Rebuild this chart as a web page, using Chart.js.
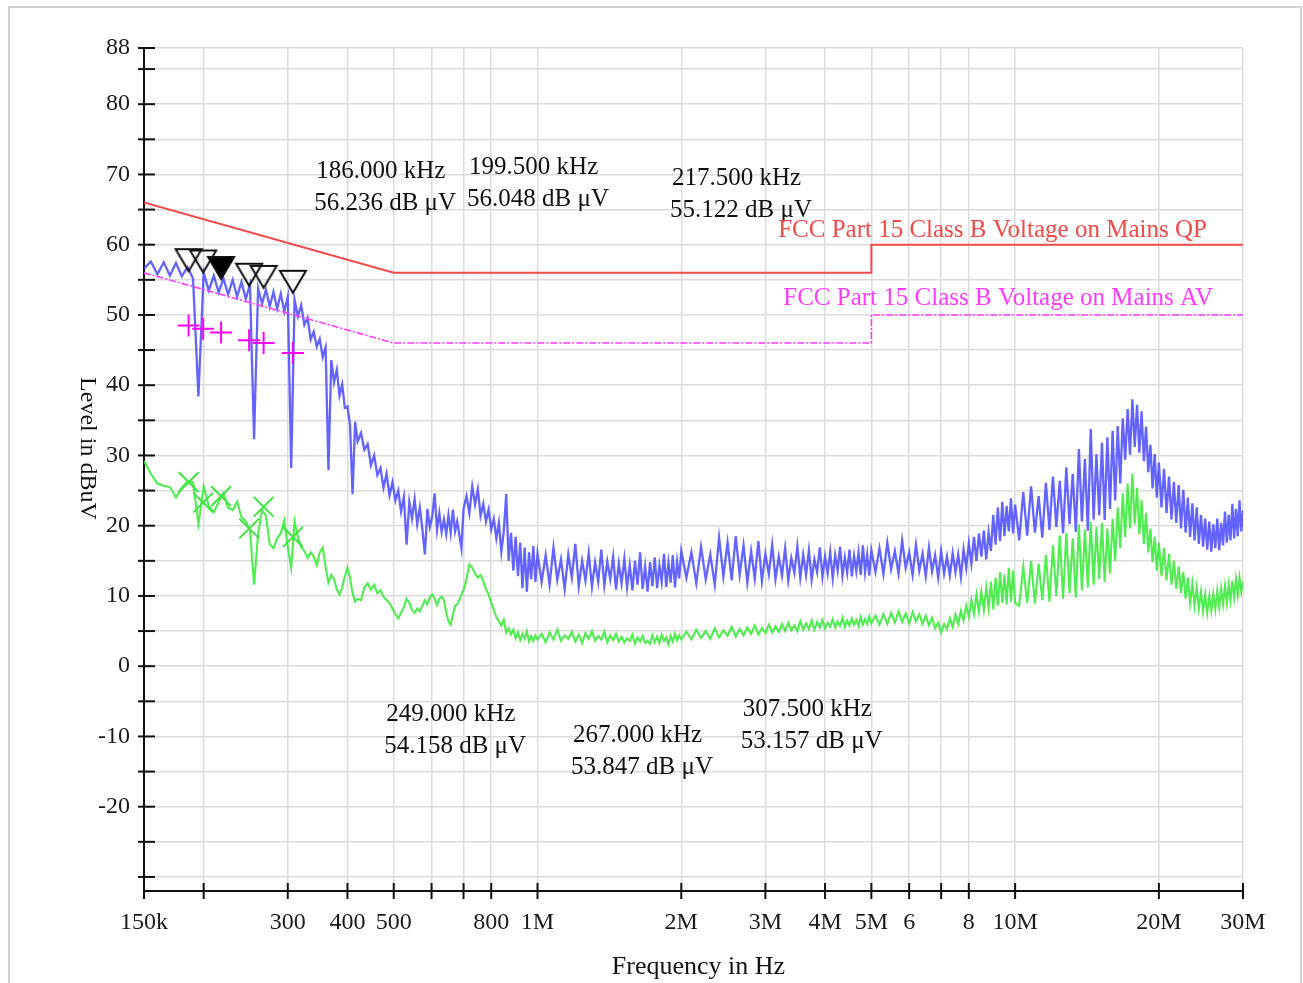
<!DOCTYPE html>
<html>
<head>
<meta charset="utf-8">
<script src="https://cdn.jsdelivr.net/npm/chart.js@4.4.1/dist/chart.umd.min.js"></script>
<style>
  html, body { margin: 0; padding: 0; background: #fff; overflow: hidden; }
  #marco { position: absolute; left: 8px; top: 6px; width: 1290px; height: 990px; border: 2px solid #d2d2d2; border-bottom: none; }
  #caja { position: absolute; left: 0; top: 0; width: 1303px; height: 983px; }
</style>
</head>
<body>
<div id="marco"></div>
<div id="caja"><canvas id="grafica"></canvas></div>
<script>
// frecuencias del barrido en kHz
let frecuencias = [
  150,155,160,165,170,175,180,185,190,195,
  200,205,210,215,220,225,230,235,240,245,
  250,255,260,265,270,275,280,285,290,295,
  300,305,310,315,320,325,330,335,340,345,
  350,355,360,365,370,375,380,385,390,395,
  400,405,410,415,420,
  427,434,441,448,455,462,469,476,483,490,
  497,504,511,518,525,532,539,546,553,560,
  567,574,581,588,595,602,609,616,623,630,
  637,644,651,658,665,672,679,686,693,700,
  710,720,730,740,750,760,770,780,790,800,
  810,820,830,840,850,860,870,880,890,900,
  910,920,930,940,950,960,970,980,990,1000,
  1020,1040,1060,1080,1100,1120,1140,1160,1180,1200,
  1220,1240,1260,1280,1300,1320,1340,1360,1380,1400,
  1420,1440,1460,1480,1500,1520,1540,1560,1580,1600,
  1620,1640,1660,1680,1700,1720,1740,1760,1780,1800,
  1820,1840,1860,1880,1900,1920,1940,1960,1980,2000,
  2050,2100,2150,2200,2250,2300,2350,2400,2450,2500,
  2550,2600,2650,2700,2750,2800,2850,2900,2950,3000,
  3050,3100,3150,3200,3250,3300,3350,3400,3450,3500,
  3550,3600,3650,3700,3750,3800,3850,3900,3950,4000,
  4050,4100,4150,4200,4250,4300,4350,4400,4450,4500,
  4550,4600,4650,4700,4750,4800,4850,4900,4950,5000,
  5100,5200,5300,5400,5500,5600,5700,5800,5900,6000,
  6100,6200,6300,6400,6500,6600,6700,6800,6900,7000,
  7100,7200,7300,7400,7500,7600,7700,7800,7900,8000,
  8100,8200,8300,8400,8500,8600,8700,8800,8900,9000,
  9100,9200,9300,9400,9500,9600,9700,9800,9900,10000,
  10200,10400,10600,10800,11000,11200,11400,11600,11800,12000,
  12200,12400,12600,12800,13000,13200,13400,13600,13800,14000,
  14200,14400,14600,14800,15000,15200,15400,15600,15800,16000,
  16200,16400,16600,16800,17000,17200,17400,17600,17800,18000,
  18200,18400,18600,18800,19000,19200,19400,19600,19800,20000,
  20250,20500,20750,21000,21250,21500,21750,22000,22250,22500,
  22750,23000,23250,23500,23750,24000,24250,24500,24750,25000,
  25250,25500,25750,26000,26250,26500,26750,27000,27250,27500,
  27750,28000,28250,28500,28750,29000,29250,29500,29750,30000
];

// traza azul (pico) en dBuV
let nivelPico = [
  56.6,57.6,55.8,57.5,55.6,57.4,55.5,56.8,55.2,38.4,
  56.0,53.5,55.6,53.2,55.2,52.9,55.0,52.6,54.7,52.3,
  54.3,32.3,53.8,51.6,53.6,51.2,53.3,50.9,53.0,50.5,
  52.6,28.2,52.2,49.8,51.4,48.6,49.6,46.5,47.6,45.5,
  46.6,44.0,45.4,27.9,43.6,40.4,42.2,38.5,40.1,36.8,
  37.0,34.4,24.5,34.8,32.0,
  33.2,30.8,31.6,28.6,30.0,27.2,28.2,25.4,27.4,24.3,
  26.2,23.6,25.0,22.0,24.1,17.3,23.4,21.0,23.8,20.2,
  22.6,19.5,15.9,22.4,19.8,21.3,24.6,19.4,21.8,19.1,
  20.9,18.8,21.5,19.0,22.3,19.2,20.6,18.7,16.8,22.4,
  24.2,21.8,25.6,23.0,25.2,21.4,23.1,20.6,22.3,19.5,
  21.0,18.2,20.4,16.3,19.2,24.5,15.0,19.0,13.6,18.4,
  12.8,17.6,11.1,16.9,10.6,16.2,12.4,17.1,12.0,16.0,
  12.0,15.8,11.6,16.9,12.3,15.2,11.0,15.9,12.6,17.4,
  11.4,15.0,12.2,16.1,11.3,14.8,12.0,16.6,11.5,14.9,
  12.4,15.6,10.9,14.6,11.8,15.3,11.2,14.4,10.8,15.0,
  11.6,16.2,11.0,14.2,10.6,14.8,11.4,15.5,11.1,14.3,
  12.0,16.0,11.3,14.7,11.9,15.8,11.2,14.9,12.5,16.4,
  12.6,16.2,11.8,17.0,12.4,15.9,11.6,18.3,12.8,17.6,
  12.2,18.5,13.0,17.2,11.9,16.4,12.5,17.8,12.1,16.0,
  13.1,17.3,12.4,15.6,12.9,16.8,12.2,15.4,13.3,17.1,
  12.6,15.9,13.0,16.5,12.3,15.2,13.4,16.9,12.7,15.6,
  13.2,16.3,12.5,15.8,13.6,17.0,12.9,15.5,13.3,16.6,
  12.8,15.7,13.5,16.2,13.0,17.2,13.4,15.9,12.9,16.5,
  13.4,16.8,13.1,17.6,13.8,16.4,13.2,17.9,14.0,16.2,
  13.0,17.3,13.6,16.0,12.8,16.9,13.5,15.8,12.6,16.4,
  13.2,15.6,12.9,16.1,13.4,15.9,12.7,16.6,14.0,17.5,
  14.6,18.4,15.0,18.9,15.6,19.3,15.2,19.0,16.4,21.5,
  17.3,22.6,17.8,23.4,18.5,22.8,19.2,23.9,18.9,23.0,
  17.9,24.8,18.6,25.6,19.0,24.2,18.3,26.1,19.4,27.0,
  19.8,26.4,18.9,28.3,20.2,27.4,19.1,30.9,20.6,29.5,
  19.3,33.8,20.9,30.2,21.5,31.8,20.8,32.6,22.4,33.5,
  23.6,34.2,26.0,35.3,29.4,36.6,30.1,38.0,31.2,37.2,
  30.4,36.3,29.2,34.1,27.6,31.5,25.3,30.2,24.0,29.0,
  22.6,28.1,21.8,27.0,20.9,26.2,20.4,25.8,19.6,25.1,
  19.0,24.0,18.4,23.2,17.9,22.6,17.4,21.5,17.0,21.0,
  16.6,20.6,16.3,20.2,16.8,21.0,16.5,20.4,17.2,22.0,
  17.6,21.6,17.9,23.1,18.2,22.4,18.5,23.6,19.2,22.2
];

// traza verde (promedio) en dBuV
let nivelPromedio = [
  29.2,27.4,26.0,25.7,25.5,24.0,25.4,26.3,26.2,20.2,
  25.6,22.8,21.9,23.4,24.6,22.6,22.2,23.4,21.2,20.6,
  19.4,11.6,18.8,22.2,21.4,17.4,16.8,18.2,18.9,20.8,
  17.0,14.0,20.6,18.4,17.0,16.4,15.4,16.2,15.6,14.4,
  16.2,16.9,14.2,11.9,13.0,12.4,10.9,10.2,11.2,12.8,
  14.0,12.6,10.4,9.2,9.6,
  9.4,11.2,11.8,10.9,11.6,10.4,10.8,9.9,9.4,9.0,
  8.2,7.4,6.8,7.6,8.4,9.6,9.0,8.0,7.6,8.2,
  7.8,8.6,9.4,8.8,9.8,10.2,9.6,8.7,9.6,9.9,
  9.4,7.6,6.4,5.9,7.4,8.6,8.8,9.4,10.2,10.8,
  12.4,14.5,14.0,13.2,12.6,13.0,12.1,11.0,10.2,9.0,
  8.0,7.0,6.4,5.8,6.6,4.8,5.4,4.5,5.2,4.0,
  4.8,3.7,4.6,3.9,5.0,3.5,4.3,3.6,4.4,3.8,
  4.6,3.4,4.8,3.8,5.2,3.6,4.4,3.9,4.9,3.5,
  4.5,3.3,4.7,3.9,5.0,3.6,4.3,3.8,4.9,3.4,
  4.4,3.7,4.6,3.5,4.2,3.4,4.0,3.6,4.5,3.2,
  4.1,3.5,4.3,3.3,3.6,3.2,4.4,3.4,4.2,3.3,
  4.5,3.6,4.1,3.1,4.3,3.5,4.6,3.7,4.4,3.8,
  4.9,3.8,5.2,4.0,5.0,3.9,5.4,4.1,5.1,4.3,
  5.6,4.2,5.3,4.4,5.5,4.6,5.8,4.5,5.4,4.7,
  5.9,4.8,5.7,4.9,6.0,5.0,6.2,5.1,5.8,5.0,
  6.4,5.2,6.1,5.3,6.5,5.2,6.3,5.5,6.6,5.4,
  6.2,5.6,6.7,5.5,6.4,5.7,6.9,5.6,6.5,5.8,
  6.8,5.9,6.6,5.7,7.0,5.9,6.7,6.0,7.1,6.1,
  7.2,5.9,7.4,6.0,7.6,6.2,7.8,6.3,7.5,6.1,
  7.7,6.4,7.4,6.0,7.2,5.8,6.9,5.4,6.2,4.8,
  6.0,5.3,6.8,5.6,7.4,6.0,7.9,6.5,8.6,7.0,
  9.4,7.4,10.2,7.8,10.6,8.0,11.2,8.3,12.0,8.1,
  12.6,8.6,13.4,9.0,13.0,8.8,14.0,9.2,13.6,9.0,
  8.6,14.2,9.0,15.0,8.9,14.6,9.4,15.8,9.2,17.2,
  10.0,18.6,9.6,19.0,10.4,18.2,9.8,20.2,10.8,19.4,
  11.2,20.6,11.6,19.8,12.4,20.4,12.0,19.6,13.2,21.0,
  15.0,22.6,16.8,24.6,18.4,26.0,19.6,27.4,20.2,25.4,
  18.8,23.6,17.4,21.8,16.2,19.6,14.8,18.4,13.6,17.6,
  12.8,16.8,12.2,16.0,11.6,15.0,11.0,14.2,10.4,13.4,
  9.6,12.6,9.0,11.8,8.6,11.2,8.2,10.6,7.8,10.2,
  7.6,10.0,7.9,10.3,8.1,10.8,8.4,11.0,8.8,11.4,
  9.0,11.6,9.4,12.2,9.8,12.4,10.2,12.6,10.6,12.0
];

// limites FCC
let limiteFrec = [150, 500, 5000, 5000, 30000];
let limiteQP = [66, 56, 56, 60, 60];
let limiteAV = [56, 46, 46, 50, 50];
let nombreQP = "FCC Part 15 Class B Voltage on Mains QP";
let nombreAV = "FCC Part 15 Class B Voltage on Mains AV";
let etiquetaLimiteFrec = [3190, 3270];
let etiquetaLimiteNivel = [62.1, 52.3];

// marcadores
let marcadorFrec = [186, 199.5, 217.5, 249, 267, 307.5];
let marcadorPico = [56.236, 56.048, 55.122, 54.158, 53.847, 53.157];
let marcadorRelleno = [false, false, true, false, false, false];
let marcadorAV = [48.5, 48.05, 47.5, 46.4, 46.0, 44.6];
let marcadorVerde = [26.2, 23.3, 24.2, 19.6, 22.7, 18.4];
let textoFrec = [344, 719, 1913, 482, 1187, 2690];
let textoNivel = [70.4, 71.0, 69.4, -6.8, -9.9, -6.2];

// ejes
let ticksX = [150,200,300,400,500,600,700,800,1000,2000,3000,4000,5000,6000,7000,8000,10000,20000,30000];
let etiquetasX = ["150k","","300","400","500","","","800","1M","2M","3M","4M","5M","6","","8","10M","20M","30M"];
let ticksY = [-30,-25,-20,-15,-10,-5,0,5,10,15,20,25,30,35,40,45,50,55,60,65,70,75,80,85,88];
let etiquetasY = ["","","-20","","-10","","0","","10","","20","","30","","40","","50","","60","","70","","80","","88"];

let colorQP = "#f04a4a";
let colorAV = "#ff3cff";
let fuente = '"Liberation Serif", "DejaVu Serif", serif';

function armarPuntos(xs, ys){
    let puntos = [];
    for (let i = 0; i < xs.length; i++){
        puntos.push({x: xs[i], y: ys[i]});
    }
    return puntos;
}

function triangulo(relleno){
    // la punta queda en el centro del lienzo
    const c = document.createElement("canvas");
    c.width = 30;
    c.height = 48;
    const g = c.getContext("2d");
    g.beginPath();
    g.moveTo(2, 2);
    g.lineTo(28, 2);
    g.lineTo(15, 24);
    g.closePath();
    if (relleno){
        g.fillStyle = "#000";
        g.fill();
    }
    g.lineWidth = 2;
    g.strokeStyle = "#111";
    g.stroke();
    return c;
}

let estilosMarcador = marcadorRelleno.map(r => triangulo(r));

const extras = {
    id: "extras",
    beforeDatasetsDraw(chart){
        const ctx = chart.ctx;
        const area = chart.chartArea;
        ctx.save();
        ctx.strokeStyle = "#111";
        ctx.lineWidth = 2;
        for (let v of ticksY){
            const py = chart.scales.y.getPixelForValue(v);
            ctx.beginPath();
            ctx.moveTo(area.left - 6, py);
            ctx.lineTo(area.left + 11, py);
            ctx.stroke();
        }
        for (let v of ticksX){
            const px = chart.scales.x.getPixelForValue(v);
            ctx.beginPath();
            ctx.moveTo(px, area.bottom - 8);
            ctx.lineTo(px, area.bottom + 8);
            ctx.stroke();
        }
        ctx.restore();
    },
    afterDraw(chart){
        const ctx = chart.ctx;
        const area = chart.chartArea;
        const ex = chart.scales.x;
        const ey = chart.scales.y;
        ctx.save();
        ctx.textBaseline = "middle";
        ctx.textAlign = "left";
        ctx.font = "25px " + fuente;
        ctx.fillStyle = "#111";
        for (let i = 0; i < marcadorFrec.length; i++){
            const px = ex.getPixelForValue(textoFrec[i]);
            const py = ey.getPixelForValue(textoNivel[i]);
            ctx.fillText(marcadorFrec[i].toFixed(3) + " kHz", px, py);
            ctx.fillText(marcadorPico[i].toFixed(3) + " dB μV", px - 2, py + 32);
        }
        ctx.fillStyle = colorQP;
        ctx.fillText(nombreQP, ex.getPixelForValue(etiquetaLimiteFrec[0]), ey.getPixelForValue(etiquetaLimiteNivel[0]));
        ctx.fillStyle = colorAV;
        ctx.fillText(nombreAV, ex.getPixelForValue(etiquetaLimiteFrec[1]), ey.getPixelForValue(etiquetaLimiteNivel[1]));

        ctx.fillStyle = "#111";
        ctx.textAlign = "center";
        ctx.font = "26px " + fuente;
        ctx.fillText("Frequency in Hz", (area.left + area.right) / 2 + 5, 967);

        ctx.translate(area.left - 57, ey.getPixelForValue(31));
        ctx.rotate(Math.PI / 2);
        ctx.font = "24px " + fuente;
        ctx.fillText("Level in dBuV", 0, 0);
        ctx.restore();
    }
};

const ctx = document.getElementById("grafica").getContext("2d");
const grafica = new Chart(ctx, {
    type: "line",
    data: {
        datasets: [{
            label: "Marcadores",
            data: armarPuntos(marcadorFrec, marcadorPico),
            showLine: false,
            pointStyle: (c) => estilosMarcador[c.dataIndex],
            pointRadius: 12,
            order: 0
        }, {
            label: "AV",
            data: armarPuntos(marcadorFrec, marcadorAV),
            showLine: false,
            pointStyle: "cross",
            pointRadius: 11,
            pointBorderWidth: 2,
            pointBorderColor: "#ff00ff",
            order: 0
        }, {
            label: "Verde",
            data: armarPuntos(marcadorFrec, marcadorVerde),
            showLine: false,
            pointStyle: "crossRot",
            pointRadius: 14,
            pointBorderWidth: 2,
            pointBorderColor: "#3ce63c",
            order: 0
        }, {
            label: nombreQP,
            data: armarPuntos(limiteFrec, limiteQP),
            borderColor: colorQP,
            borderWidth: 2,
            pointRadius: 0,
            order: 1
        }, {
            label: nombreAV,
            data: armarPuntos(limiteFrec, limiteAV),
            borderColor: colorAV,
            borderWidth: 1.6,
            borderDash: [7, 2, 2, 2],
            pointRadius: 0,
            order: 1
        }, {
            label: "Promedio",
            data: armarPuntos(frecuencias, nivelPromedio),
            borderColor: "rgba(60, 235, 60, 0.9)",
            borderWidth: 2.1,
            pointRadius: 0,
            order: 2
        }, {
            label: "Pico",
            data: armarPuntos(frecuencias, nivelPico),
            borderColor: "rgba(72, 72, 255, 0.85)",
            borderWidth: 2.3,
            pointRadius: 0,
            order: 3
        }]
    },
    options: {
        responsive: true,
        maintainAspectRatio: false,
        animation: false,
        layout: { padding: { left: 0, right: 60, top: 48, bottom: 0 } },
        plugins: { legend: { display: false }, tooltip: { enabled: false } },
        elements: { line: { tension: 0 } },
        scales: {
            x: {
                type: "logarithmic",
                min: 150,
                max: 30000,
                afterBuildTicks: (s) => { s.ticks = ticksX.map(v => ({value: v})); },
                afterFit: (s) => { s.height = 92; },
                ticks: {
                    autoSkip: false,
                    maxRotation: 0,
                    minRotation: 0,
                    padding: 17,
                    color: "#1a1a1a",
                    font: { family: fuente, size: 24 },
                    callback: (v) => etiquetasX[ticksX.indexOf(v)]
                },
                grid: { color: "#dcdcdc", lineWidth: 1.5, drawTicks: false },
                border: { color: "#111", width: 2 }
            },
            y: {
                type: "linear",
                min: -32,
                max: 88,
                afterBuildTicks: (s) => { s.ticks = ticksY.map(v => ({value: v})); },
                afterFit: (s) => { s.width = 144; },
                ticks: {
                    padding: 14,
                    color: "#1a1a1a",
                    font: { family: fuente, size: 24 },
                    callback: (v) => etiquetasY[ticksY.indexOf(v)]
                },
                grid: { color: "#dcdcdc", lineWidth: 1.5, drawTicks: false },
                border: { color: "#111", width: 2 }
            }
        }
    },
    plugins: [extras]
});
</script>
</body>
</html>
